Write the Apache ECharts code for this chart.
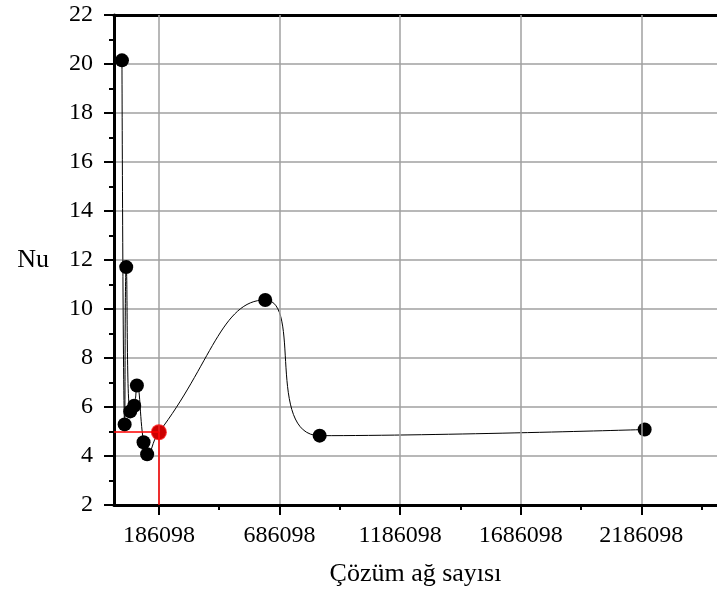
<!DOCTYPE html>
<html>
<head>
<meta charset="utf-8">
<script src="https://cdn.jsdelivr.net/npm/echarts@6/dist/echarts.min.js"></script>
<style>html,body{margin:0;padding:0;background:#fff;}#c{width:717px;height:603px;}</style>
</head>
<body>
<div id="c"></div>
<script>
const meshCounts = [33000, 44100, 50700, 67300, 83800, 94900, 122500, 137400, 186098, 627000, 852700, 2200000];
const nuValues = [20.15, 5.29, 11.71, 5.82, 6.05, 6.88, 4.56, 4.07, 4.97, 10.37, 4.83, 5.08];
const selectedPoint = [186098, 4.97];
const xTicks = [186098, 686098, 1186098, 1686098, 2186098];
const xMinorTicks = [436098, 936098, 1436098, 1936098, 2436098];
const xRange = [0, 2500000];
const yRange = [2, 22];
const yStep = 2;

const font = 'Liberation Serif';
const chart = echarts.init(document.getElementById('c'), null, {renderer: 'canvas'});
const lineData = meshCounts.map((x, i) => [x, nuValues[i]]);
const plain = v => String(v);

chart.setOption({
  animation: false,
  backgroundColor: '#fff',
  grid: {left: 114, top: 15, width: 606, height: 490},
  xAxis: [
    {
      type: 'value', min: xRange[0], max: xRange[1], position: 'bottom',
      name: 'Çözüm ağ sayısı', nameLocation: 'middle', nameGap: 56,
      nameTextStyle: {fontFamily: font, fontSize: 26, color: '#000'},
      axisLine: {show: true, onZero: false, lineStyle: {color: '#000', width: 3}},
      axisTick: {show: true, inside: false, length: 10, customValues: xTicks, lineStyle: {color: '#000', width: 2}},
      axisLabel: {show: true, margin: 19, customValues: xTicks, formatter: plain, fontFamily: font, fontSize: 24, color: '#000'},
      splitLine: {show: true, lineStyle: {color: '#a0a0a0', width: 1.5}},
      z: 5
    },
    {
      type: 'value', min: xRange[0], max: xRange[1], position: 'bottom',
      axisLine: {show: false},
      axisTick: {show: true, inside: false, length: 5, customValues: xMinorTicks, lineStyle: {color: '#000', width: 2}},
      axisLabel: {show: false},
      splitLine: {show: false}
    },
    {
      type: 'value', min: xRange[0], max: xRange[1], position: 'top',
      axisLine: {show: true, onZero: false, lineStyle: {color: '#000', width: 3}},
      axisTick: {show: false}, axisLabel: {show: false}, splitLine: {show: false}
    }
  ],
  yAxis: {
    type: 'value', min: yRange[0], max: yRange[1], interval: yStep,
    name: 'Nu', nameLocation: 'middle', nameGap: 65, nameRotate: 0,
    nameTextStyle: {fontFamily: font, fontSize: 26, color: '#000'},
    axisLine: {show: true, onZero: false, lineStyle: {color: '#000', width: 3}},
    axisTick: {show: true, inside: false, length: 10, lineStyle: {color: '#000', width: 2}},
    minorTick: {show: true, splitNumber: 2, length: 5, lineStyle: {color: '#000', width: 2}},
    axisLabel: {margin: 21, formatter: plain, fontFamily: font, fontSize: 24, color: '#000'},
    splitLine: {show: true, lineStyle: {color: '#a0a0a0', width: 1.5}}
  },
  series: [
    {
      type: 'line', data: lineData, smooth: true,
      symbol: 'circle', symbolSize: 14,
      itemStyle: {color: '#000'},
      lineStyle: {color: '#000', width: 1},
      z: 3
    },
    {
      type: 'scatter', data: [selectedPoint], symbol: 'circle', symbolSize: 16,
      itemStyle: {color: '#ff0000'},
      z: 6,
      markLine: {
        silent: true, symbol: 'none', label: {show: false}, z: 6,
        lineStyle: {color: '#ff0000', width: 1.5, type: 'solid'},
        data: [
          [{coord: [xRange[0], selectedPoint[1]]}, {coord: [selectedPoint[0], selectedPoint[1]]}],
          [{coord: [selectedPoint[0], selectedPoint[1]]}, {coord: [selectedPoint[0], yRange[0]]}]
        ]
      }
    }
  ]
});
</script>
</body>
</html>
